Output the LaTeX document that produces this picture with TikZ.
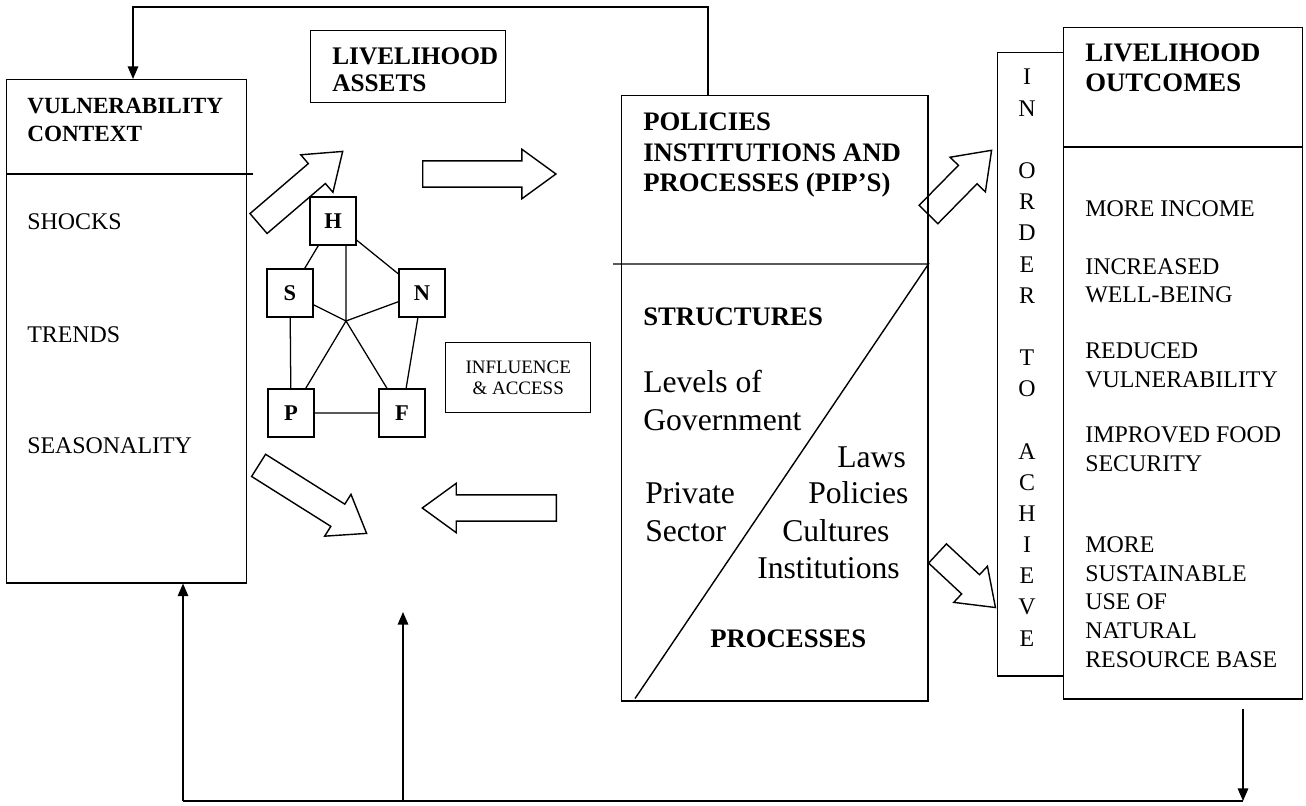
\documentclass[tikz,border=0pt]{standalone}
\usepackage{fontspec}
\setmainfont{Liberation Serif}
\usepackage{tikz}
\usetikzlibrary{shapes,arrows,positioning,calc,arrows.meta}

\newcommand{\fsz}[2]{\fontsize{#1}{#2}\selectfont}

\begin{document}
\begin{tikzpicture}[x=0.025cm,y=-0.025cm,
    panel/.style={draw,line width=1pt,inner sep=0pt,anchor=north west},
    asset/.style={draw,line width=1pt,minimum width=1.15cm,minimum height=1.2cm,inner sep=0pt,font=\bfseries\fsz{16}{18}},
    head/.style={font=\bfseries\fsz{19}{21.5},anchor=base west,inner sep=0pt,align=left},
    item/.style={font=\fsz{17}{20.3},anchor=base west,inner sep=0pt,align=left},
    big/.style={font=\fsz{22.5}{27},anchor=base west,inner sep=0pt},
    fat/.style={single arrow,draw,line width=1pt,anchor=tail,inner xsep=0pt,inner ysep=0.31cm,single arrow head extend=0.29cm,single arrow tip angle=72},
    fb/.style={line width=1pt,-{Triangle[length=9pt,width=7.5pt]}}
  ]
  \useasboundingbox (0,0) rectangle (1306,806);

  % boxes
  \node[panel,minimum width=6cm,minimum height=12.575cm] (vuln) at (6,79) {};
  \node[panel,minimum width=4.875cm,minimum height=1.8cm] (assets) at (310,30) {};
  \node[panel,minimum width=3.625cm,minimum height=1.75cm,align=center,font=\fsz{13.5}{15.5}] (infl) at (445,342) {INFLUENCE\\\& ACCESS};
  \node[panel,minimum width=7.65cm,minimum height=15.125cm] (pip) at (621,95) {};
  \node[panel,minimum width=1.65cm,minimum height=15.575cm] (order) at (997,52) {};
  \node[panel,minimum width=5.975cm,minimum height=16.775cm] (outcomes) at (1063,27) {};

  \draw[line width=1pt] (vuln.west |- 0,174) -- (253,174);
  \draw[line width=1pt] (613,264) -- (pip.east |- 0,264) -- ($(pip.south west)+(14,-3)$);
  \draw[line width=1pt] (outcomes.west |- 0,147) -- (outcomes.east |- 0,147);

  % vulnerability context (multi-line texts sit on their last baseline)
  \node[head,font=\bfseries\fsz{16.5}{20.6}] (vulnT) at (27,142) {VULNERABILITY\\CONTEXT};
  \node[item] (shocks) at (27,230) {SHOCKS};
  \node[item] (trends) at (27,342) {TRENDS};
  \node[item] (season) at (27,453) {SEASONALITY};

  % livelihood assets
  \node[head,font=\bfseries\fsz{18}{19.3}] (assetT) at (332,92) {LIVELIHOOD\\ASSETS};
  \node[asset] (H) at (333,221) {H};
  \node[asset] (S) at (290,293) {S};
  \node[asset] (N) at (422,293) {N};
  \node[asset] (P) at (291,413) {P};
  \node[asset] (F) at (402,413) {F};
  \coordinate (hub) at (346,321);
  \draw[line width=0.9pt] (H) -- (S) (H) -- (N) (S) -- (P) (N) -- (F) (P) -- (F);
  \draw[line width=0.9pt] (hub) -- (hub |- H.south) (hub) -- (S) (hub) -- (N) (hub) -- (P) (hub) -- (F);

  % PIPs
  \node[head,font=\bfseries\fsz{19}{22}] (pipT) at (643,192) {POLICIES\\INSTITUTIONS AND\\PROCESSES (PIP'S)};
  \node[head] (struct) at (643,325) {STRUCTURES};
  \node[big] (lev) at (643,392) {Levels of};
  \node[big] (gov) at (643,430) {Government};
  \node[big] (priv) at (645,503) {Private};
  \node[big] (sect) at (645,541) {Sector};
  \node[big] (laws) at (837,467) {Laws};
  \node[big] (pol) at (808,503) {Policies};
  \node[big] (cult) at (782,541) {Cultures};
  \node[big] (inst) at (757,578) {Institutions};
  \node[head] (proc) at (710,647) {PROCESSES};

  % in order to achieve
  \foreach \ch [count=\k from 0] in {I,N,{},O,R,D,E,R,{},T,O,{},A,C,H,I,E,V,E}
    \node[font=\fsz{17}{20},anchor=base,inner sep=0pt] (ltr\k) at (1027,85+31.17*\k) {\ch};

  % livelihood outcomes
  \node[head] (outT) at (1085,92) {LIVELIHOOD\\OUTCOMES};
  \node[item] (o1) at (1085,217) {MORE INCOME};
  \node[item] (o2) at (1085,303) {INCREASED\\WELL-BEING};
  \node[item] (o3) at (1085,387) {REDUCED\\VULNERABILITY};
  \node[item] (o4) at (1085,471) {IMPROVED FOOD\\SECURITY};
  \node[item] (o5) at (1085,667) {MORE\\SUSTAINABLE\\USE OF\\NATURAL\\RESOURCE BASE};

  % block arrows, placed by their tails
  \node[fat,minimum height=2.77cm,rotate=40.6] (toAssets) at (258,224) {};
  \node[fat,minimum height=3.33cm] (toPip) at (422,174) {};
  \node[fat,minimum height=3.19cm,rotate=-32.2] (toOut) at (258,465) {};
  \node[fat,minimum height=3.35cm,rotate=180] (fromPip) at (557,508) {};
  \node[fat,minimum height=2.25cm,rotate=45.5] (pipUp) at (928,215) {};
  \node[fat,minimum height=1.98cm,rotate=-43] (pipDown) at (937,553) {};

  % feedback lines
  \coordinate (topL) at (133,7);
  \coordinate (botR) at (1243,801);
  \coordinate (botL) at (183,801);
  \coordinate (botM) at (403,801);
  \coordinate (midTip) at (403,612);
  \draw[fb] ($(pip.north west)+(87,0)$) |- (topL) -- (vuln.north -| topL);
  \draw[fb] ($(outcomes.south -| botR)+(0,9)$) -- (botR);
  \draw[line width=1pt] (botR) -- (botL);
  \draw[fb] (botL) -- (vuln.south -| botL);
  \draw[fb] (botM) -- (midTip);
\end{tikzpicture}
\end{document}
